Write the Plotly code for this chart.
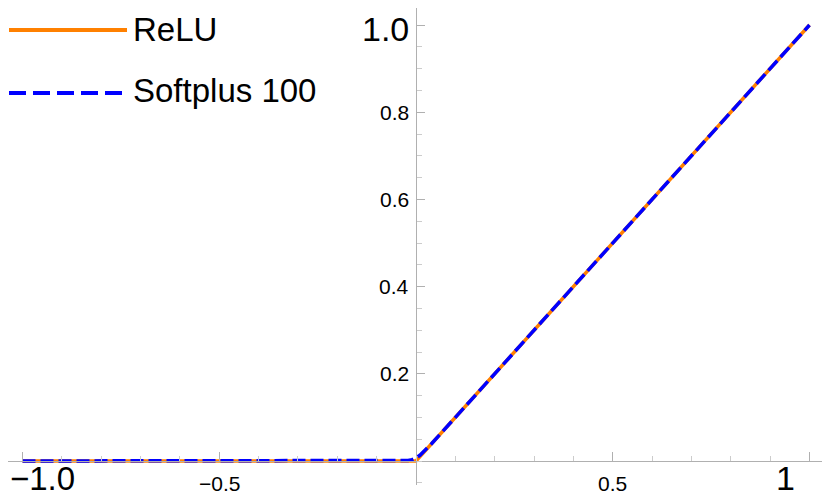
import plotly.graph_objects as go

# ---------------- data ----------------
relu_x = [-1.0, 0.0, 1.0]
relu_y = [0.0, 0.0, 1.0]

softplus_x = [-1.0, -0.06, -0.04, -0.03, -0.02, -0.01, 0.0, 0.01, 0.02, 0.03, 0.04, 0.06, 1.0]
softplus_y = [0.0, 0.00002, 0.00018, 0.0005, 0.0013, 0.0031, 0.0069, 0.0131, 0.0213, 0.0305, 0.0402, 0.0600, 1.0]

x_tick_vals = [-1.0, -0.5, 0.5, 1.0]
x_tick_text = ["−1.0", "−0.5", "0.5", "1"]
x_tick_size = [33, 21, 21, 34]

y_tick_vals = [0.2, 0.4, 0.6, 0.8, 1.0]
y_tick_text = ["0.2", "0.4", "0.6", "0.8", "1.0"]
y_tick_size = [21, 21, 21, 21, 34]

legend_names = ["ReLU", "Softplus 100"]

# ---------------- style / layout ----------------
W, H = 830, 498
OFF = 8  # page body margin in the viewer
ORANGE = "#FF8000"
BLUE = "#0000FF"
AXIS = "#b0b0b0"
MINOR = "#cccccc"
FONT = "Liberation Sans, Arial, sans-serif"

# screen-pixel geometry of the reference
X0_PX, X_SCALE = 416.0, 393.5   # x=0 pixel, pixels per unit
Y0_PX, Y_SCALE = 461.0, 436.0   # y=0 pixel, pixels per unit
PLOT_BOTTOM_PX = 485.0

x_range = [(OFF - X0_PX) / X_SCALE, (W + OFF - X0_PX) / X_SCALE]
y_range = [(Y0_PX - PLOT_BOTTOM_PX) / Y_SCALE, (Y0_PX - OFF) / Y_SCALE]
x_dom = [0.0, 1.0]
y_dom = [(H + OFF - PLOT_BOTTOM_PX) / H, 1.0]

x_axis_pos = y_dom[0] + (0 - y_range[0]) / (y_range[1] - y_range[0]) * (y_dom[1] - y_dom[0])
y_axis_pos = x_dom[0] + (0 - x_range[0]) / (x_range[1] - x_range[0]) * (x_dom[1] - x_dom[0])


def px(x):
    return (x - OFF) / W


def py(y):
    return 1 - (y - OFF) / H


fig = go.Figure()
fig.add_trace(go.Scatter(x=relu_x, y=relu_y, mode="lines", name=legend_names[0],
                         line=dict(color=ORANGE, width=3.5), showlegend=False))
fig.add_trace(go.Scatter(x=softplus_x, y=softplus_y, mode="lines", name=legend_names[1],
                         line=dict(color=BLUE, width=3.5, dash="13px,5px"), showlegend=False))

x_label_xshift = [20, 0, 0, -24]
annotations = []
for v, t, s, dx in zip(x_tick_vals, x_tick_text, x_tick_size, x_label_xshift):
    annotations.append(dict(x=v, y=0, xref="x", yref="y", text=t, showarrow=False,
                            xanchor="center", yanchor="middle", xshift=dx,
                            yshift=-17 if s > 25 else -22.5,
                            font=dict(size=s, color="black", family=FONT)))
for v, t, s in zip(y_tick_vals, y_tick_text, y_tick_size):
    annotations.append(dict(x=0, y=v, xref="x", yref="y", text=t, showarrow=False,
                            xanchor="right", yanchor="middle", xshift=-5,
                            yshift=-4 if s > 25 else 0,
                            font=dict(size=s, color="black", family=FONT)))

# manual legend
legend_y = [30, 93]
annotations.append(dict(x=px(131), y=py(30), xref="paper", yref="paper", text=legend_names[0],
                        showarrow=False, xanchor="left", yanchor="middle",
                        font=dict(size=33, color="black", family=FONT)))
annotations.append(dict(x=px(131), y=py(90), xref="paper", yref="paper", text=legend_names[1],
                        showarrow=False, xanchor="left", yanchor="middle",
                        font=dict(size=33, color="black", family=FONT)))
shapes = [
    dict(type="line", xref="paper", yref="paper", x0=px(9), x1=px(127),
         y0=py(legend_y[0]), y1=py(legend_y[0]), line=dict(color=ORANGE, width=4)),
    dict(type="line", xref="paper", yref="paper", x0=px(9), x1=px(122),
         y0=py(legend_y[1]), y1=py(legend_y[1]), line=dict(color=BLUE, width=4, dash="17px,7px")),
]

fig.update_layout(
    width=W, height=H,
    margin=dict(l=0, r=0, t=0, b=0),
    paper_bgcolor="white", plot_bgcolor="white",
    showlegend=False,
    annotations=annotations,
    shapes=shapes,
    xaxis=dict(range=x_range, domain=x_dom, anchor="free", position=x_axis_pos,
               showgrid=False, zeroline=False, showline=True, linecolor=AXIS, linewidth=1.2,
               ticks="inside", ticklen=9, tickwidth=1, tickcolor=AXIS,
               tickmode="array", tickvals=x_tick_vals, showticklabels=False,
               minor=dict(ticks="inside", ticklen=5, tickwidth=1, tickcolor=MINOR,
                          dtick=0.1, tick0=0, showgrid=False)),
    yaxis=dict(range=y_range, domain=y_dom, anchor="free", position=y_axis_pos,
               showgrid=False, zeroline=False, showline=True, linecolor=AXIS, linewidth=1.2,
               ticks="inside", ticklen=8, tickwidth=1, tickcolor=AXIS,
               tickmode="array", tickvals=y_tick_vals, showticklabels=False,
               minor=dict(ticks="inside", ticklen=5, tickwidth=1, tickcolor=MINOR,
                          dtick=0.05, tick0=0, showgrid=False)),
)

fig.write_html("out.html")
